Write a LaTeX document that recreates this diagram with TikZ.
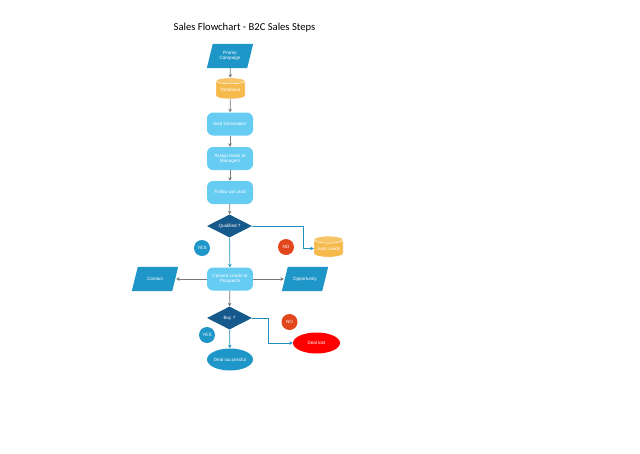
\documentclass[tikz,border=0pt]{standalone}
\usepackage{fontspec}
\setmainfont{Liberation Sans}
\newfontfamily\titlefont{Carlito}
\usetikzlibrary{shapes.geometric,arrows.meta,backgrounds}
\definecolor{pblue}{HTML}{1F96C8}
\definecolor{corange}{HTML}{F6B94C}
\definecolor{lblue}{HTML}{66CCF2}
\definecolor{dblue}{HTML}{16598C}
\definecolor{nored}{HTML}{E2461C}
\definecolor{lostred}{HTML}{FF0000}
\definecolor{gline}{HTML}{777777}
\definecolor{bline}{HTML}{1F8FC0}
\tikzset{
  lbl/.style={text=white,font=\fontsize{4.6}{5.3}\selectfont,align=center,inner sep=0pt},
  para/.style={lbl,rectangle,minimum width=40pt,minimum height=24pt},
  cyl/.style={lbl,cylinder,shape border rotate=90,aspect=0.3,minimum width=29pt,minimum height=21pt,cylinder uses custom fill,cylinder body fill=corange,cylinder end fill=corange!85!white,draw=white,line width=0.4pt},
  rbox/.style={lbl,rectangle,rounded corners=6pt,fill=lblue,minimum width=46pt,minimum height=23pt},
  dia/.style={lbl,diamond,aspect=1.95,fill=dblue,minimum width=45pt,minimum height=23pt},
  circ/.style={lbl,circle,minimum size=16pt},
  ell/.style={lbl,ellipse,minimum width=46pt,minimum height=22pt},
  garrow/.style={draw=gline,line width=0.7pt,-{Stealth[length=3.5pt,width=3.5pt]}},
  barrow/.style={draw=bline,line width=0.7pt,-{Stealth[length=3.5pt,width=3.5pt]}}
}
\newcommand{\paraFill}[1]{%
  \fill[pblue] ([xshift=3pt]#1.north west) -- ([xshift=3pt]#1.north east)
    -- ([xshift=-3pt]#1.south east) -- ([xshift=-3pt]#1.south west) -- cycle;}
\begin{document}
\begin{tikzpicture}[x=1pt,y=-1pt]
\useasboundingbox (0,0) rectangle (640,453);
\node[font=\titlefont\fontsize{10.6}{12}\selectfont] (title) at (244.5,28) {Sales Flowchart - B2C Sales Steps};
\node[para] (promo) at (230,56) {Promo\\Campaign};
\node[cyl] (db) at (230.5,90) {Database};
\node[rbox] (lead) at (230,124) {lead Generation};
\node[rbox] (assign) at (230,158.5) {Assign leads to\\Managers};
\node[rbox] (follow) at (230,192.5) {Follow up Lead};
\node[dia] (qual) at (229.5,226) {Qualified ?};
\node[circ,fill=pblue] (yes1) at (202,248) {YES};
\node[circ,fill=nored] (no1) at (286,247) {NO};
\node[cyl] (junk) at (328.5,248.5) {Junk Leads};
\node[rbox] (conv) at (230,279) {Convert Leads to\\Prospects};
\node[para] (contact) at (155,279) {Contact};
\node[para] (opp) at (305,279) {Opportunity};
\node[dia] (buy) at (229.5,318) {Buy ?};
\node[circ,fill=pblue] (yes2) at (207,335) {YES};
\node[circ,fill=nored] (no2) at (289.5,322) {NO};
\node[ell,fill=lostred,minimum width=47pt,minimum height=21pt] (lost) at (316.5,343) {Deal lost};
\node[ell,fill=pblue] (succ) at (230,359.5) {Deal successful};
\begin{scope}[on background layer]
\paraFill{promo}
\paraFill{contact}
\paraFill{opp}
\end{scope}
\coordinate (qbend) at (303,226);
\coordinate (bbend) at (268,318);
\draw[garrow] (promo) -- (db);
\draw[garrow] (db) -- (lead);
\draw[garrow] (lead) -- (assign);
\draw[garrow] (assign) -- (follow);
\draw[garrow] (follow) -- (qual);
\draw[barrow] (qual) -- (conv);
\draw[barrow] (qual.east) -- (qbend) |- (junk.west);
\draw[garrow] (conv) -- ([xshift=1pt]contact.east);
\draw[garrow] (conv) -- ([xshift=-1pt]opp.west);
\draw[garrow] (conv) -- (buy);
\draw[barrow] (buy) -- (succ);
\draw[barrow] (buy.east) -- (bbend) |- (lost.west);
\end{tikzpicture}
\end{document}
